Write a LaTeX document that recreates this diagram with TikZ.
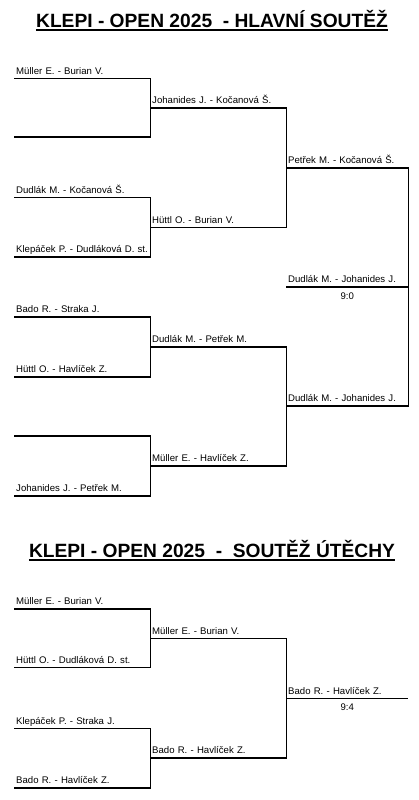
\documentclass[tikz,border=0pt]{standalone}
\usepackage{fontspec}
\setmainfont{Liberation Sans}
\usetikzlibrary{positioning}

\tikzset{
  slot/.style={anchor=south west, text width=132pt, align=left, inner xsep=2pt, inner ysep=0pt,
    text height=7pt, text depth=4pt, font=\fontsize{9.6}{11}\selectfont},
  final/.style={slot, text width=118pt},
  score/.style={inner sep=0pt, font=\fontsize{9.6}{11}\selectfont},
  heading/.style={anchor=base, inner sep=0pt, font=\fontsize{19.2}{23}\selectfont\bfseries},
  bline/.style={line width=1.6pt},
  uline/.style={line width=1.4pt}
}

\begin{document}
\begin{tikzpicture}[x=1pt, y=-1pt]
\useasboundingbox (0,0) rectangle (418,800);

% hlavni soutez
\node[heading] (t1) at (212,27.7) {KLEPI - OPEN 2025\ \ - HLAVNÍ SOUTĚŽ};
\draw[uline] ([yshift=-2.4pt]t1.base west) -- ([yshift=-2.4pt]t1.base east);

\node[slot] (a1) at (14,78.3) {Müller E. - Burian V.};
\node[slot] (a2) at (14,136.7) {};
\node[slot] (a3) at (14,197.3) {Dudlák M. - Kočanová Š.};
\node[slot] (a4) at (14,256.7) {Klepáček P. - Dudláková D. st.};
\node[slot] (a5) at (14,316.7) {Bado R. - Straka J.};
\node[slot] (a6) at (14,376.7) {Hüttl O. - Havlíček Z.};
\node[slot] (a7) at (14,435.7) {};
\node[slot] (a8) at (14,495.7) {Johanides J. - Petřek M.};

\node[slot] (b1) at (150,107.7) {Johanides J. - Kočanová Š.};
\node[slot] (b2) at (150,227.3) {Hüttl O. - Burian V.};
\node[slot] (b3) at (150,346.7) {Dudlák M. - Petřek M.};
\node[slot] (b4) at (150,465.7) {Müller E. - Havlíček Z.};

\node[final] (c1) at (286,167.7) {Petřek M. - Kočanová Š.};
\node[final] (c2) at (286,406) {Dudlák M. - Johanides J.};

\node[final] (f1) at (286,286.7) {Dudlák M. - Johanides J.};
\node[score, below=5.5pt of f1.south] (s1) {9:0};

\draw[bline] (a1.south west) -- (a1.south east) -- (a2.south east) -- (a2.south west);
\draw[bline] (a3.south west) -- (a3.south east) -- (a4.south east) -- (a4.south west);
\draw[bline] (a5.south west) -- (a5.south east) -- (a6.south east) -- (a6.south west);
\draw[bline] (a7.south west) -- (a7.south east) -- (a8.south east) -- (a8.south west);
\draw[bline] (b1.south west) -- (b1.south east) -- (b2.south east) -- (b2.south west);
\draw[bline] (b3.south west) -- (b3.south east) -- (b4.south east) -- (b4.south west);
\draw[bline] (c1.south west) -- (c1.south east) -- (c2.south east) -- (c2.south west);
\draw[bline] (f1.south west) -- (f1.south east);

% soutez utechy
\node[heading] (t2) at (212,557.7) {KLEPI - OPEN 2025\ \ -\ \ SOUTĚŽ ÚTĚCHY};
\draw[uline] ([yshift=-2.4pt]t2.base west) -- ([yshift=-2.4pt]t2.base east);

\node[slot] (d1) at (14,609) {Müller E. - Burian V.};
\node[slot] (d2) at (14,667.3) {Hüttl O. - Dudláková D. st.};
\node[slot] (d3) at (14,728.3) {Klepáček P. - Straka J.};
\node[slot] (d4) at (14,787.7) {Bado R. - Havlíček Z.};

\node[slot] (e1) at (150,638.3) {Müller E. - Burian V.};
\node[slot] (e2) at (150,757.7) {Bado R. - Havlíček Z.};

\node[final] (g1) at (286,698.3) {Bado R. - Havlíček Z.};
\node[score, below=5.5pt of g1.south] (s2) {9:4};

\draw[bline] (d1.south west) -- (d1.south east) -- (d2.south east) -- (d2.south west);
\draw[bline] (d3.south west) -- (d3.south east) -- (d4.south east) -- (d4.south west);
\draw[bline] (e1.south west) -- (e1.south east) -- (e2.south east) -- (e2.south west);
\draw[bline] (g1.south west) -- (g1.south east);
\end{tikzpicture}
\end{document}
